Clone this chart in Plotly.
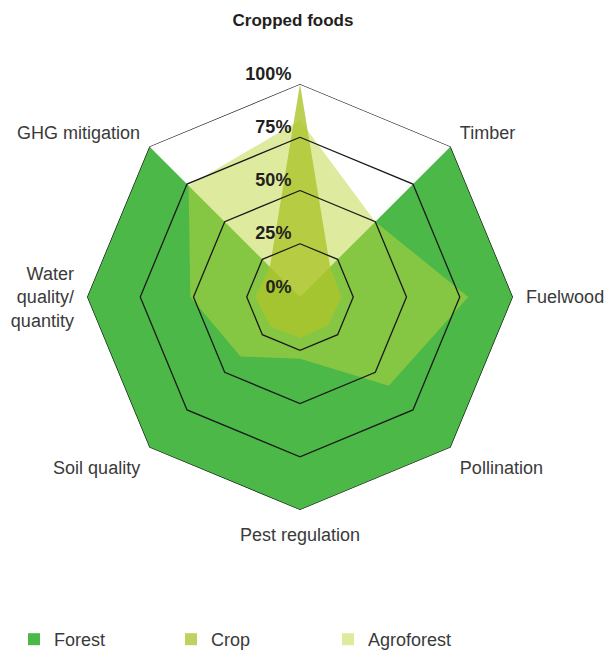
import plotly.graph_objects as go

# ---- data ----
categories = ["Cropped foods", "Timber", "Fuelwood", "Pollination",
              "Pest regulation", "Soil quality", "Water quality/quantity", "GHG mitigation"]
tick_labels = ["", "Timber", "Fuelwood", "Pollination", "Pest regulation",
               "Soil quality", "Water<br>quality/<br>quantity", "GHG mitigation"]
top_label = "Cropped foods"
forest = [0, 100, 100, 100, 100, 100, 100, 100]
crop = [100, 20, 19.5, 18.7, 19.3, 19.6, 21, 20]
agroforest = [83, 50, 79, 59, 29, 39.5, 51.5, 74]
ring_values = [25, 50, 75, 100]
pct_values = [0, 25, 50, 75, 100]
pct_labels = ["0%", "25%", "50%", "75%", "100%"]

FONT = "Liberation Sans, Arial, sans-serif"
TXT = "#3a3a3a"
W, H = 609, 650
ML, MR, MT, MB = 87, 96, 84, 140
PW = W - ML - MR
PH = H - MT - MB


def closed(vals):
    return list(vals) + [vals[0]]


theta_c = closed(categories)

fig = go.Figure()
series = [
    ("Forest", forest, "#4cb848", "#4cb848"),
    ("Crop", crop, "rgba(171,196,43,0.8)", "#c0d15f"),
    ("Agroforest", agroforest, "rgba(190,213,62,0.5)", "#deea9e"),
]
draw_order = [series[0], series[2], series[1]]
for name, vals, fill, _ in draw_order:
    fig.add_trace(go.Scatterpolar(
        r=closed(vals), theta=theta_c, mode="lines", fill="toself",
        fillcolor=fill, line=dict(width=0, color=fill), name=name,
        showlegend=False, hoverinfo="skip"))

for v in ring_values:
    fig.add_trace(go.Scatterpolar(
        r=[v] * len(theta_c), theta=theta_c, mode="lines",
        line=dict(color="#1a1a1a", width=1.3), showlegend=False, hoverinfo="skip"))

# radial value labels (a point exactly on the pole is culled by plotly's
# polygon test, so nudge it by a negligible amount)
fig.add_trace(go.Scatterpolar(
    r=[max(v, 1e-3) for v in pct_values], theta=[categories[0]] * len(pct_values),
    mode="text",
    text=["<b>%s</b>\u00a0\u2009" % t for t in pct_labels], textposition="top left",
    textfont=dict(family=FONT, size=18, color="#231f20"), cliponaxis=False,
    showlegend=False, hoverinfo="skip"))

# legend entries
for name, vals, _, legcol in series:
    fig.add_trace(go.Scatterpolar(
        r=[None], theta=[categories[0]], mode="markers", name=name,
        marker=dict(symbol="square", size=16, color=legcol),
        hoverinfo="skip"))

fig.update_layout(
    width=W, height=H,
    margin=dict(l=ML, r=MR, t=MT, b=MB, autoexpand=False),
    paper_bgcolor="white", plot_bgcolor="white",
    font=dict(family=FONT, color=TXT, size=18),
    title=dict(text="<b>%s</b>" % top_label, x=293 / W, xanchor="center",
               xref="container", y=1 - 20 / H, yanchor="middle", yref="container",
               font=dict(family=FONT, size=17, color="#231f20")),
    polar=dict(
        bgcolor="white",
        gridshape="linear",
        radialaxis=dict(range=[0, 100], visible=True, showgrid=False, showline=False,
                        showticklabels=False, ticks=""),
        angularaxis=dict(direction="clockwise", rotation=90, showgrid=False,
                         showline=False, ticks="outside", ticklen=9,
                         tickcolor="rgba(0,0,0,0)",
                         tickmode="array", tickvals=categories, ticktext=tick_labels,
                         tickfont=dict(family=FONT, size=18, color=TXT)),
    ),
    legend=dict(orientation="h", x=(14 - ML) / PW, xref="paper", xanchor="left",
                y=-(621 - (MT + PH)) / PH, yref="paper", yanchor="top",
                entrywidth=112, entrywidthmode="pixels",
                font=dict(family=FONT, size=18, color=TXT), itemsizing="constant"),
)

fig.write_html("out.html", config={"displayModeBar": False},
               post_script="document.body.style.margin='0';document.body.style.overflow='hidden';")
